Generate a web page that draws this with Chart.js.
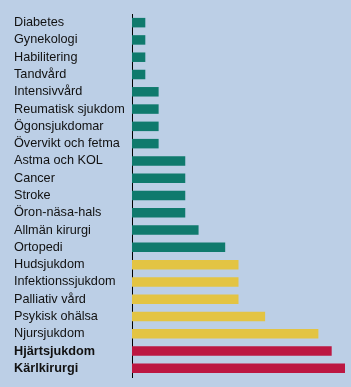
<!DOCTYPE html>
<html>
<head>
<meta charset="utf-8">
<script src="https://cdn.jsdelivr.net/npm/chart.js@4"></script>
<style>
  html, body { margin: 0; padding: 0; background: #bccfe6; }
  canvas { display: block; }
</style>
</head>
<body>
<canvas id="diagram" width="351" height="387"></canvas>
<script>
// Kategorier (uppifrån och ned)
const kategorier = [
    'Diabetes', 'Gynekologi', 'Habilitering', 'Tandvård', 'Intensivvård',
    'Reumatisk sjukdom', 'Ögonsjukdomar', 'Övervikt och fetma', 'Astma och KOL',
    'Cancer', 'Stroke', 'Öron-näsa-hals', 'Allmän kirurgi', 'Ortopedi',
    'Hudsjukdom', 'Infektionssjukdom', 'Palliativ vård', 'Psykisk ohälsa',
    'Njursjukdom', 'Hjärtsjukdom', 'Kärlkirurgi'
];

// Värden per kategori
const varden = [1, 1, 1, 1, 2, 2, 2, 2, 4, 4, 4, 4, 5, 7, 8, 8, 8, 10, 14, 15, 16];

// Grupp per kategori (0 = grön, 1 = gul, 2 = röd)
const grupp = [0, 0, 0, 0, 0, 0, 0, 0, 0, 0, 0, 0, 0, 0, 1, 1, 1, 1, 1, 2, 2];

const gruppFarger = ['#0f7a6d', '#e3c443', '#bc1742'];

const ctx = document.getElementById('diagram').getContext('2d');

new Chart(ctx, {
    type: 'bar',
    data: {
        labels: kategorier,
        datasets: [{
            data: varden,
            backgroundColor: grupp.map(g => gruppFarger[g]),
            borderWidth: 0,
            categoryPercentage: 1,
            barPercentage: 0.55
        }]
    },
    options: {
        indexAxis: 'y',
        responsive: false,
        animation: false,
        layout: {
            padding: { top: 14, bottom: 10, left: 14, right: 6 }
        },
        plugins: {
            legend: { display: false },
            tooltip: { enabled: false }
        },
        scales: {
            x: {
                display: false,
                min: 0,
                max: 16
            },
            y: {
                grid: { display: false },
                border: { display: true, color: '#000', width: 1 },
                ticks: {
                    autoSkip: false,
                    crossAlign: 'far',
                    padding: 0,
                    color: '#111',
                    font: function(c) {
                        return {
                            family: 'Arial, "Liberation Sans", sans-serif',
                            size: 12.7,
                            weight: c.index >= 19 ? 'bold' : 'normal'
                        };
                    }
                },
                afterFit: function(scale) {
                    scale.width = 118;
                }
            }
        }
    }
});
</script>
</body>
</html>
